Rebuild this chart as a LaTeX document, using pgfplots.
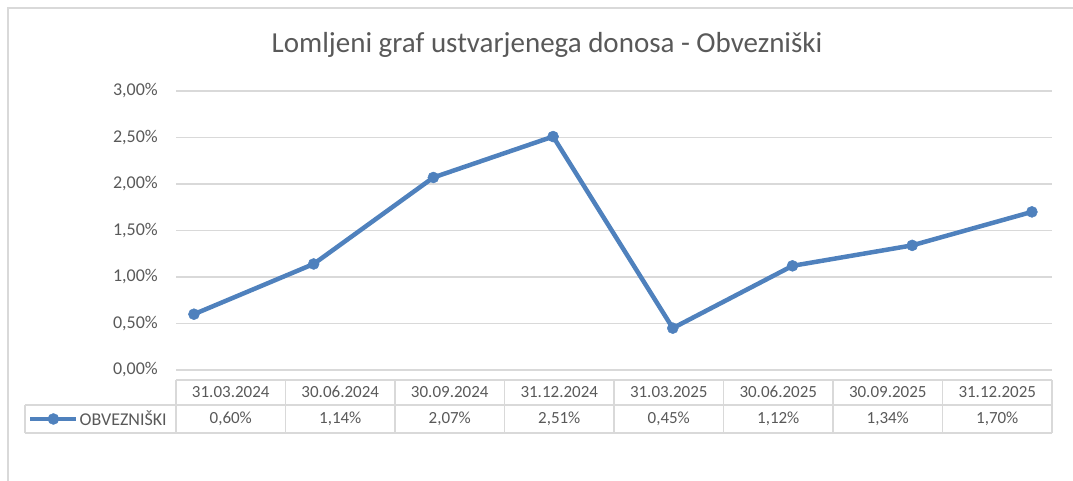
\documentclass[border=0pt]{standalone}
\usepackage{fontspec}
\setmainfont{Carlito}
\usepackage{pgfplots}
\pgfplotsset{compat=1.18}
\definecolor{xlblue}{RGB}{79,129,189}
\definecolor{xlgrid}{RGB}{217,217,217}
\definecolor{xltext}{RGB}{89,89,89}
\begin{document}
\begin{tikzpicture}[x=1pt,y=1pt]
\path[use as bounding box] (0,0) rectangle (1073,481);
% chart border (cut at right and bottom in the screenshot)
\draw[xlgrid, line width=2pt] (8,0) -- (8,472.5) -- (1073,472.5);
\node[text=xltext, font=\fontsize{29}{33}\selectfont] at (547,436) {Lomljeni graf ustvarjenega donosa - Obvezniški};
\begin{axis}[
  at={(176pt,111pt)}, anchor=south west,
  scale only axis, width=876pt, height=279pt,
  xmin=-0.150, xmax=7.168, ymin=0, ymax=3,
  axis line style={draw=none},
  xtick=\empty,
  ytick={0,0.5,1,1.5,2,2.5,3},
  yticklabels={{0,00\%},{0,50\%},{1,00\%},{1,50\%},{2,00\%},{2,50\%},{3,00\%}},
  ymajorgrids, grid style={xlgrid, line width=1.5pt},
  major tick length=0pt,
  yticklabel style={font=\fontsize{18}{21}\selectfont, text=xltext, anchor=east, inner sep=0pt, xshift=-18pt},
  clip=false,
  legend style={at={(-0.169,-0.1756)}, anchor=west, draw=none, fill=none,
    font=\fontsize{18}{21}\selectfont, text=xltext, inner sep=0pt,
    nodes={inner sep=1pt}},
  legend image code/.code={\draw[mark repeat=2,mark phase=2,#1] plot coordinates {(0pt,0pt)(23pt,0pt)(46pt,0pt)};},
]
\addplot[xlblue, line width=4.5pt, line join=round, mark=*, mark size=5.5pt,
  mark options={fill=xlblue, draw=xlblue, line width=0.5pt}]
  coordinates {(0,0.60) (1,1.14) (2,2.07) (3,2.51) (4,0.45) (5,1.12) (6,1.34) (7,1.70)};
\addlegendentry{OBVEZNIŠKI}
\end{axis}
% data table
\begin{scope}[xlgrid, line width=1.5pt]
\draw (176,101) -- (1052,101);
\draw (25,76) -- (1052,76);
\draw (25,48) -- (1052,48);
\draw (25,48) -- (25,76);
\foreach \i in {0,...,8} {\draw ({176+109.5*\i},48) -- ({176+109.5*\i},101);}
\end{scope}
\begin{scope}[every node/.style={text=xltext, font=\fontsize{17}{20}\selectfont}]
\foreach \d [count=\i from 0] in {31.03.2024,30.06.2024,30.09.2024,31.12.2024,31.03.2025,30.06.2025,30.09.2025,31.12.2025}
  {\node at ({230.75+109.5*\i},89) {\d};}
\foreach \a/\b [count=\i from 0] in {0/60,1/14,2/07,2/51,0/45,1/12,1/34,1/70}
  {\node at ({230.75+109.5*\i},62) {\a,\b\%};}
\end{scope}
\end{tikzpicture}
\end{document}
